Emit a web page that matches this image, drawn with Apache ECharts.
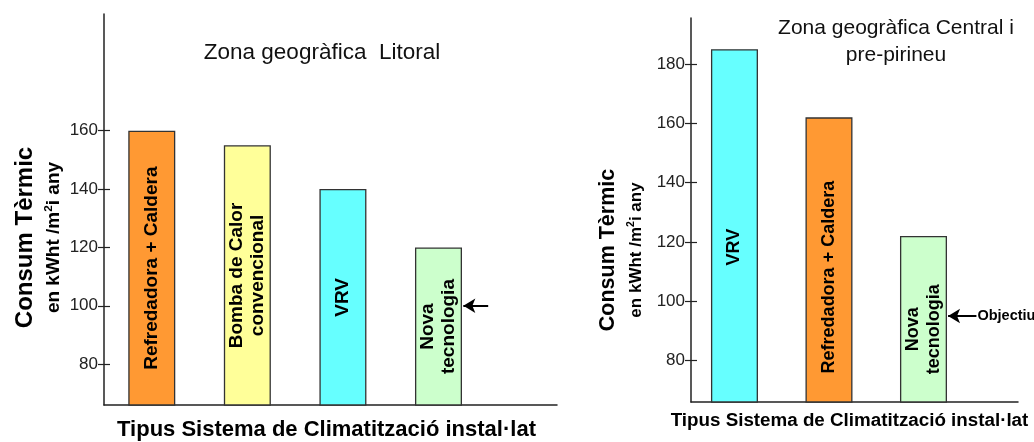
<!DOCTYPE html>
<html>
<head>
<meta charset="utf-8">
<script src="https://cdn.jsdelivr.net/npm/echarts@6/dist/echarts.min.js"></script>
<style>
  html, body { margin: 0; padding: 0; background: #fff; }
  #chart { width: 1034px; height: 442px; }
</style>
</head>
<body>
<div id="chart"></div>
<script>
// Zona geogràfica Litoral
const litoralSystems = ['Refredadora + Caldera', 'Bomba de Calor\nconvencional', 'VRV', 'Nova\ntecnologia'];
const litoralValues = [160, 155, 140, 120];
const litoralColors = ['#ff9933', '#ffff99', '#66ffff', '#ccffcc'];
const litoralTicks = [80, 100, 120, 140, 160];
const litoralObjective = 100;      // arrow next to "Nova tecnologia"

// Zona geogràfica Central i pre-pirineu
const centralSystems = ['VRV', 'Refredadora + Caldera', 'Nova\ntecnologia'];
const centralValues = [185, 162, 122];
const centralColors = ['#66ffff', '#ff9933', '#ccffcc'];
const centralTicks = [80, 100, 120, 140, 160, 180];
const centralObjective = 95;       // "Objectiu"

const FONT = 'Liberation Sans, Arial, Helvetica, sans-serif';
const AXIS_COLOR = '#222';

// bars sit at the middle of unit-wide slots on a value x axis
function barData(values, colors) {
  return values.map((v, i) => ({ value: [i + 0.5, v], itemStyle: { color: colors[i] } }));
}

function yAxes(gridIndex, min, max, ticks, sizes) {
  const main = {
    gridIndex, type: 'value', position: 'left', min, max,
    axisLine: { show: true, lineStyle: { color: AXIS_COLOR, width: 1.5 } },
    axisTick: { show: true, length: 6, customValues: ticks, lineStyle: { color: AXIS_COLOR, width: 1.2 } },
    axisLabel: { customValues: ticks, fontFamily: FONT, fontSize: sizes.tick, color: '#222', margin: 6 },
    splitLine: { show: false },
    name: '{a|Consum Tèrmic}\n{b|en kWht /m}{s|2}{b|i any}',
    nameLocation: 'middle', nameRotate: 90, nameGap: sizes.gap,
    nameTextStyle: {
      // right padding (in the rotated frame) moves the title down the axis
      padding: [0, sizes.shift, 0, 0],
      rich: {
        a: { fontFamily: FONT, fontSize: sizes.t1, fontWeight: 'bold', color: '#000', lineHeight: sizes.lh1 },
        b: { fontFamily: FONT, fontSize: sizes.t2, fontWeight: 'bold', color: '#000', lineHeight: sizes.lh2 },
        s: { fontFamily: FONT, fontSize: sizes.t2 * 0.62, fontWeight: 'bold', color: '#000', padding: [0, 0, sizes.t2 * 0.6, 0] }
      }
    }
  };
  // the inner half of each tick mark, crossing the axis line
  const inner = {
    gridIndex, type: 'value', position: 'left', min, max,
    axisLine: { show: false },
    axisTick: { show: true, inside: true, length: 6, customValues: ticks, lineStyle: { color: AXIS_COLOR, width: 1.2 } },
    axisLabel: { show: false },
    splitLine: { show: false }
  };
  return [main, inner];
}

function xAxis(gridIndex, min, max, size, gap, shiftLeft) {
  return {
    gridIndex, type: 'value', min, max,
    axisLine: { show: true, onZero: false, lineStyle: { color: AXIS_COLOR, width: 1.5 } },
    axisTick: { show: false }, axisLabel: { show: false }, splitLine: { show: false },
    name: 'Tipus Sistema de Climatització instal·lat',
    nameLocation: 'middle', nameGap: gap,
    nameTextStyle: {
      fontFamily: FONT, fontSize: size, fontWeight: 'bold', color: '#000',
      padding: [0, shiftLeft * 2, 0, 0]
    }
  };
}

function arrowLine(slot, value, len, text, textSize) {
  const start = slot + 0.5 + 0.26;
  return {
    silent: true,
    symbol: ['arrow', 'none'],
    symbolSize: [11, 12],
    lineStyle: { color: '#000', width: 2, type: 'solid' },
    label: text ? {
      show: true, position: 'end', formatter: text, distance: 1,
      fontFamily: FONT, fontSize: textSize, fontWeight: 'bold', color: '#000'
    } : { show: false },
    data: [[{ coord: [start, value] }, { coord: [start + len, value] }]]
  };
}

const chart = echarts.init(document.getElementById('chart'), null, { renderer: 'canvas' });

chart.setOption({
  backgroundColor: '#fff',
  animation: false,
  graphic: [
    { type: 'text', x: 322, y: 53,
      style: { text: 'Zona geogràfica  Litoral', font: '22.5px ' + FONT, fill: '#111', align: 'center', verticalAlign: 'middle' } },
    { type: 'text', x: 896, y: 42,
      style: { text: 'Zona geogràfica Central i\npre-pirineu', font: '21px ' + FONT, lineHeight: 27, fill: '#111', align: 'center', verticalAlign: 'middle' } }
  ],
  grid: [
    { left: 104, top: 14, width: 453, bottom: 37, outerBoundsMode: 'none', containLabel: false },
    { left: 691, top: 18, width: 327, bottom: 40, outerBoundsMode: 'none', containLabel: false }
  ],
  xAxis: [
    xAxis(0, 0, 4.74, 22, 14, 4),
    xAxis(1, 0.04, 3.5, 18.8, 9, 5)
  ],
  yAxis: [
    ...yAxes(0, 66, 200, litoralTicks, { tick: 17, t1: 24, t2: 19, lh1: 32, lh2: 26, gap: 37, shift: 56 }),
    ...yAxes(1, 66, 195.5, centralTicks, { tick: 17, t1: 21.5, t2: 17, lh1: 30, lh2: 26, gap: 42, shift: 80 })
  ],
  series: [
    {
      type: 'bar', xAxisIndex: 0, yAxisIndex: 0, barWidth: 47,
      data: barData(litoralValues, litoralColors),
      itemStyle: { borderColor: '#333', borderWidth: 1.3 },
      label: {
        show: true, position: 'inside', rotate: 90,
        fontFamily: FONT, fontSize: 19, fontWeight: 'bold', color: '#000', lineHeight: 21,
        formatter: p => litoralSystems[p.dataIndex]
      },
      markLine: arrowLine(3, litoralObjective, 0.26, null)
    },
    {
      type: 'bar', xAxisIndex: 1, yAxisIndex: 2, barWidth: 47,
      data: barData(centralValues, centralColors),
      itemStyle: { borderColor: '#333', borderWidth: 1.3 },
      label: {
        show: true, position: ['50%', '56%'], align: 'center', verticalAlign: 'middle', rotate: 90,
        fontFamily: FONT, fontSize: 18, fontWeight: 'bold', color: '#000', lineHeight: 21,
        formatter: p => centralSystems[p.dataIndex]
      },
      markLine: arrowLine(2, centralObjective, 0.3, 'Objectiu', 14.5)
    }
  ]
});
</script>
</body>
</html>
